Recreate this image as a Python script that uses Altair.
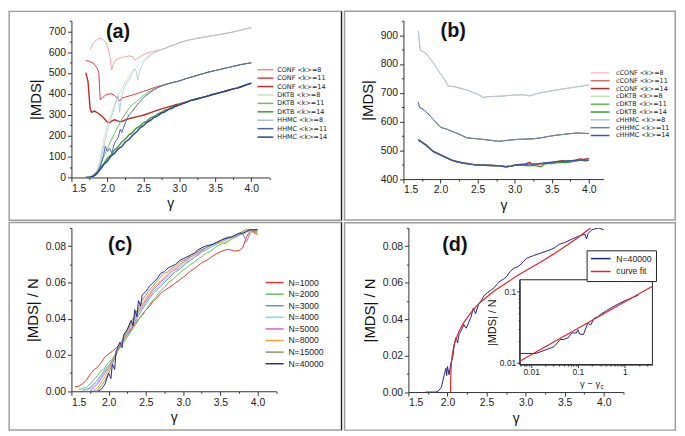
import altair as alt
import pandas as pd

FONT = "Liberation Sans"
LFONT = "DejaVu Sans"
ONE = alt.Data(values=[{"k": 1}])

# ---------------- tick lists ----------------
X_TICKS = [1.5, 1.75, 2.0, 2.25, 2.5, 2.75, 3.0, 3.25, 3.5, 3.75, 4.0, 4.25]
X_TICKS_B = [1.5, 1.75, 2.0, 2.25, 2.5, 2.75, 3.0, 3.25, 3.5, 3.75, 4.0]
YA_TICKS = [0, 50, 100, 150, 200, 250, 300, 350, 400, 450, 500, 550, 600, 650, 700, 750]
YB_TICKS = [400, 450, 500, 550, 600, 650, 700, 750, 800, 850, 900, 950]
YC_TICKS = [0.0, 0.01, 0.02, 0.03, 0.04, 0.05, 0.06, 0.07, 0.08, 0.09]
INSET_X_TICKS = [0.006, 0.007, 0.008, 0.009, 0.01, 0.02, 0.03, 0.04, 0.05, 0.06, 0.07, 0.08, 0.09,
                 0.1, 0.2, 0.3, 0.4, 0.5, 0.6, 0.7, 0.8, 0.9, 1, 2, 3]
INSET_Y_TICKS = [0.01, 0.02, 0.03, 0.04, 0.05, 0.06, 0.07, 0.08, 0.09, 0.1]

# ---------------- panel (a) data ----------------
A_NAMES = ["CONF  <k>=8", "CONF  <k>=11", "CONF  <k>=14",
           "DKTB  <k>=8", "DKTB  <k>=11", "DKTB  <k>=14",
           "HHMC  <k>=8", "HHMC  <k>=11", "HHMC  <k>=14"]
A_COLORS = ["#f08c8c", "#e03c3c", "#c4262a", "#c2e6b6", "#6cc25c", "#3d9c38",
            "#a9bdd9", "#4a66b2", "#27419c"]
A_WIDTHS = [0.8, 1.0, 1.4, 0.8, 1.0, 1.4, 0.8, 1.0, 1.4]

A_TAIL_8 = [(2.75, 612), (2.80, 618), (2.85, 625), (2.90, 632), (2.95, 638), (3.00, 645),
            (3.05, 650), (3.10, 655), (3.15, 659), (3.20, 662), (3.25, 667), (3.30, 669),
            (3.35, 672), (3.40, 675), (3.45, 678), (3.50, 681), (3.55, 684), (3.60, 687),
            (3.65, 690), (3.70, 693), (3.75, 697), (3.80, 701), (3.85, 705), (3.90, 709),
            (3.95, 713), (4.00, 717)]
A_TAIL_11 = [(3.00, 462), (3.05, 468), (3.10, 474), (3.15, 479), (3.20, 484), (3.25, 489),
             (3.30, 494), (3.35, 499), (3.40, 504), (3.45, 508), (3.50, 512), (3.55, 516),
             (3.60, 520), (3.65, 524), (3.70, 528), (3.75, 532), (3.80, 536), (3.85, 540),
             (3.90, 543), (3.95, 546), (4.00, 549)]
A_TAIL_14 = [(3.15, 368), (3.20, 372), (3.25, 377), (3.30, 381), (3.35, 386), (3.40, 391),
             (3.45, 396), (3.50, 400), (3.55, 405), (3.60, 410), (3.65, 414), (3.70, 419),
             (3.75, 424), (3.80, 428), (3.85, 433), (3.90, 440), (3.95, 446), (4.00, 452)]

A_CONF8 = [(1.76, 612), (1.80, 640), (1.85, 660), (1.89, 668), (1.93, 662), (1.97, 650),
           (2.00, 630), (2.03, 590), (2.06, 515), (2.08, 540), (2.11, 560), (2.15, 568),
           (2.20, 575), (2.25, 578), (2.30, 582), (2.35, 578), (2.38, 560), (2.40, 565),
           (2.45, 578), (2.50, 588), (2.55, 595), (2.60, 600), (2.65, 604), (2.70, 608)]
A_CONF11 = [(1.70, 560), (1.75, 556), (1.80, 548), (1.85, 528), (1.88, 505), (1.90, 372),
            (1.93, 380), (1.97, 394), (2.00, 398), (2.05, 401), (2.10, 392), (2.15, 376),
            (2.17, 366), (2.20, 380), (2.25, 385), (2.30, 390), (2.35, 395), (2.40, 400),
            (2.45, 406), (2.50, 412), (2.55, 418), (2.60, 424), (2.65, 430), (2.70, 436),
            (2.75, 440), (2.80, 445), (2.85, 449), (2.90, 454), (2.95, 458)]
A_CONF14 = [(1.70, 502), (1.73, 460), (1.76, 330), (1.78, 312), (1.82, 318), (1.86, 310),
            (1.90, 300), (1.95, 285), (2.00, 265), (2.03, 262), (2.07, 272), (2.10, 276),
            (2.15, 270), (2.20, 268), (2.25, 276), (2.30, 282), (2.35, 286), (2.40, 290),
            (2.45, 294), (2.50, 298), (2.55, 304), (2.60, 310), (2.65, 316), (2.70, 322),
            (2.75, 328), (2.80, 333), (2.85, 338), (2.90, 343), (2.95, 348), (3.00, 352),
            (3.05, 357), (3.10, 362)]
A_DKTB8 = [(1.70, 0), (1.75, 1), (1.80, 6), (1.85, 30), (1.90, 90), (1.95, 185), (2.00, 255),
           (2.05, 305), (2.10, 350), (2.15, 392), (2.20, 425), (2.25, 458), (2.30, 488),
           (2.35, 512), (2.40, 528), (2.45, 546), (2.50, 562), (2.55, 576), (2.60, 588),
           (2.65, 598), (2.70, 606)]
A_DKTB11 = [(1.70, 0), (1.75, 1), (1.80, 6), (1.85, 25), (1.90, 60), (1.95, 100), (2.00, 140),
            (2.05, 176), (2.10, 212), (2.15, 246), (2.20, 280), (2.25, 305), (2.30, 330),
            (2.35, 348), (2.40, 362), (2.45, 378), (2.50, 392), (2.55, 404), (2.60, 415),
            (2.65, 425), (2.70, 432), (2.75, 438), (2.80, 444), (2.85, 450), (2.90, 455),
            (2.95, 458)]
A_DKTB14 = [(1.70, 0), (1.75, 2), (1.80, 8), (1.85, 24), (1.90, 46), (1.95, 66), (2.00, 92),
            (2.05, 108), (2.10, 132), (2.15, 148), (2.20, 170), (2.25, 184), (2.30, 204),
            (2.35, 216), (2.40, 235), (2.45, 246), (2.50, 262), (2.55, 270), (2.60, 285),
            (2.65, 292), (2.70, 305), (2.75, 311), (2.80, 322), (2.85, 327), (2.90, 338),
            (2.95, 342), (3.00, 350), (3.05, 355), (3.10, 362)]
A_HHMC8 = [(1.70, 0), (1.75, 0), (1.80, 4), (1.85, 20), (1.90, 68), (1.95, 150), (2.00, 225),
           (2.05, 285), (2.10, 335), (2.13, 378), (2.15, 392), (2.17, 312), (2.19, 372),
           (2.22, 418), (2.25, 440), (2.30, 470), (2.35, 502), (2.38, 520), (2.40, 508),
           (2.42, 465), (2.44, 498), (2.47, 528), (2.50, 552), (2.55, 570), (2.60, 585),
           (2.65, 597), (2.70, 606)]
A_HHMC11 = [(1.70, 0), (1.80, 3), (1.85, 15), (1.90, 50), (1.95, 112), (1.97, 150), (2.00, 125),
            (2.03, 140), (2.06, 118), (2.10, 165), (2.15, 192), (2.18, 232), (2.20, 215),
            (2.25, 262), (2.30, 300), (2.35, 318), (2.40, 342), (2.45, 362), (2.50, 382),
            (2.55, 396), (2.60, 408), (2.65, 420), (2.70, 430), (2.75, 437), (2.80, 443),
            (2.85, 449), (2.90, 454), (2.95, 458)]
A_HHMC14 = [(1.70, 0), (1.75, 0), (1.80, 5), (1.85, 17), (1.90, 38), (1.95, 62), (2.00, 78),
            (2.05, 102), (2.10, 116), (2.15, 137), (2.20, 148), (2.25, 170), (2.30, 182),
            (2.35, 202), (2.40, 216), (2.45, 236), (2.50, 248), (2.55, 264), (2.60, 273),
            (2.65, 288), (2.70, 295), (2.75, 308), (2.80, 314), (2.85, 326), (2.90, 331),
            (2.95, 341), (3.00, 346), (3.05, 354), (3.10, 360)]

# ---------------- panel (b) data ----------------
B_NAMES = ["cCONF  <k>=8", "cCONF  <k>=11", "cCONF  <k>=14",
           "cDKTB  <k>=8", "cDKTB  <k>=11", "cDKTB  <k>=14",
           "cHHMC  <k>=8", "cHHMC  <k>=11", "cHHMC  <k>=14"]
B_COLORS = ["#f3c4c4", "#e06a6a", "#c62828", "#bde6b2", "#5dba4c", "#3a9a35",
            "#b4c2de", "#6a7cbe", "#3d58a4"]
B_WIDTHS = [1.0, 1.0, 1.4, 1.0, 1.0, 1.4, 1.0, 1.0, 1.4]

B_K8 = [(1.70, 915), (1.72, 862), (1.73, 848), (1.75, 845), (1.80, 838), (1.85, 822),
        (1.90, 805), (1.95, 785), (2.00, 765), (2.05, 748), (2.08, 735), (2.10, 724),
        (2.15, 722), (2.20, 720), (2.25, 717), (2.30, 713), (2.35, 710), (2.40, 705),
        (2.45, 700), (2.50, 695), (2.55, 688), (2.58, 683), (2.62, 686), (2.70, 687),
        (2.80, 688), (2.90, 690), (3.00, 692), (3.10, 693), (3.15, 692), (3.20, 689),
        (3.25, 693), (3.30, 697), (3.40, 702), (3.50, 707), (3.60, 711), (3.70, 715),
        (3.80, 719), (3.90, 723), (4.00, 727)]
B_K11 = [(1.70, 668), (1.71, 655), (1.72, 648), (1.75, 645), (1.80, 635), (1.85, 622),
         (1.90, 608), (1.95, 594), (2.00, 580), (2.05, 576), (2.10, 572), (2.15, 566),
         (2.20, 561), (2.25, 556), (2.30, 550), (2.35, 544), (2.40, 542), (2.50, 540),
         (2.60, 537), (2.70, 534), (2.78, 531), (2.85, 533), (2.95, 536), (3.05, 538),
         (3.15, 539), (3.25, 540), (3.35, 543), (3.45, 548), (3.55, 552), (3.65, 555),
         (3.75, 558), (3.85, 560), (3.92, 559), (4.00, 558)]
B_K14_HEAD = [(1.70, 536), (1.75, 528), (1.80, 519), (1.85, 508), (1.90, 496), (1.95, 490),
              (2.00, 484), (2.05, 478), (2.10, 472), (2.15, 466), (2.20, 462), (2.25, 459),
              (2.30, 456), (2.35, 454), (2.40, 452), (2.45, 450), (2.50, 449), (2.60, 448),
              (2.70, 447), (2.80, 446), (2.88, 443), (2.95, 445), (3.00, 448)]
B_CONF14_TAIL = [(3.05, 450), (3.10, 452), (3.15, 453), (3.20, 458), (3.23, 452), (3.30, 452),
                 (3.40, 454), (3.50, 457), (3.60, 462), (3.65, 464), (3.70, 461), (3.80, 464),
                 (3.88, 470), (3.93, 468), (4.00, 472)]
B_DKTB14_TAIL = [(3.05, 449), (3.10, 448), (3.20, 446), (3.25, 448), (3.30, 446), (3.35, 443),
                 (3.40, 452), (3.45, 455), (3.50, 454), (3.60, 458), (3.70, 457), (3.80, 462),
                 (3.90, 466), (3.95, 463), (4.00, 466)]
B_HHMC14_TAIL = [(3.05, 449), (3.10, 450), (3.20, 452), (3.30, 453), (3.40, 456), (3.50, 459),
                 (3.60, 461), (3.70, 463), (3.80, 465), (3.90, 466), (4.00, 466)]

# ---------------- panel (c) data ----------------
C_NAMES = ["N=1000", "N=2000", "N=3000", "N=4000", "N=5000", "N=8000", "N=15000", "N=40000"]
C_COLORS = ["#e8352f", "#5cc45a", "#6e8fd6", "#86dada", "#d564c8", "#f2a33c", "#8c9870", "#2b2b86"]
C_X = [1.55, 1.60, 1.65, 1.70, 1.75, 1.80, 1.85, 1.90, 1.95, 2.00,
       2.05, 2.10, 2.15, 2.20, 2.25, 2.30, 2.35, 2.40, 2.45, 2.50,
       2.55, 2.60, 2.65, 2.70, 2.75, 2.80, 2.85, 2.90, 2.95, 3.00,
       3.05, 3.10, 3.15, 3.20, 3.25, 3.30, 3.35, 3.40, 3.45, 3.50,
       3.55, 3.60, 3.65, 3.70, 3.75, 3.80, 3.85, 3.90, 3.95, 4.00]
C_N1000 = [0.0025, 0.0028, 0.0042, 0.0060, 0.0092, 0.0118, 0.0132, 0.0158, 0.0190, 0.0205,
           0.0222, 0.0238, 0.0262, 0.0285, 0.0312, 0.0338, 0.0372, 0.0398, 0.0418, 0.0448,
           0.0468, 0.0498, 0.0515, 0.0540, 0.0556, 0.0568, 0.0582, 0.0598, 0.0612, 0.0628,
           0.0645, 0.0662, 0.0676, 0.0692, 0.0708, 0.0718, 0.0730, 0.0745, 0.0758, 0.0768,
           0.0776, 0.0782, 0.0778, 0.0772, 0.0776, 0.0790, 0.0850, 0.0882, 0.0878, 0.0862]
C_N2000 = [0.0010, 0.0015, 0.0022, 0.0040, 0.0062, 0.0088, 0.0112, 0.0128, 0.0160, 0.0178,
           0.0212, 0.0238, 0.0270, 0.0298, 0.0330, 0.0358, 0.0392, 0.0425, 0.0448, 0.0478,
           0.0505, 0.0528, 0.0555, 0.0572, 0.0598, 0.0612, 0.0632, 0.0650, 0.0668, 0.0682,
           0.0698, 0.0712, 0.0728, 0.0742, 0.0758, 0.0768, 0.0782, 0.0798, 0.0808, 0.0818,
           0.0828, 0.0838, 0.0848, 0.0858, 0.0868, 0.0880, 0.0890, 0.0882, 0.0872]
C_N3000 = [0.0005, 0.0010, 0.0020, 0.0040, 0.0062, 0.0090, 0.0118, 0.0142, 0.0170, 0.0210,
           0.0250, 0.0282, 0.0312, 0.0350, 0.0382, 0.0418, 0.0450, 0.0482, 0.0512, 0.0540,
           0.0560, 0.0580, 0.0600, 0.0620, 0.0640, 0.0660, 0.0672, 0.0690, 0.0708, 0.0720,
           0.0738, 0.0750, 0.0768, 0.0778, 0.0790, 0.0800, 0.0810, 0.0820, 0.0830, 0.0840,
           0.0848, 0.0852, 0.0860, 0.0870, 0.0822, 0.0870, 0.0890, 0.0892]
C_N4000 = [0.0005, 0.0015, 0.0030, 0.0050, 0.0080, 0.0110, 0.0140, 0.0172, 0.0210, 0.0248,
           0.0290, 0.0320, 0.0360, 0.0390, 0.0430, 0.0460, 0.0490, 0.0522, 0.0548, 0.0570,
           0.0592, 0.0610, 0.0630, 0.0648, 0.0662, 0.0680, 0.0698, 0.0712, 0.0728, 0.0740,
           0.0758, 0.0768, 0.0780, 0.0792, 0.0802, 0.0812, 0.0822, 0.0830, 0.0840, 0.0848,
           0.0858, 0.0862, 0.0870, 0.0878, 0.0882, 0.0890, 0.0888]
C_N5000 = [0.0005, 0.0020, 0.0040, 0.0070, 0.0100, 0.0130, 0.0170, 0.0208, 0.0250, 0.0290,
           0.0330, 0.0368, 0.0400, 0.0440, 0.0470, 0.0500, 0.0530, 0.0560, 0.0580, 0.0602,
           0.0620, 0.0640, 0.0660, 0.0672, 0.0690, 0.0710, 0.0720, 0.0740, 0.0750, 0.0762,
           0.0772, 0.0788, 0.0800, 0.0810, 0.0820, 0.0830, 0.0838, 0.0842, 0.0850, 0.0860,
           0.0868, 0.0872, 0.0880, 0.0890, 0.0888, 0.0880]
C_N8000 = [0.0005, 0.0020, 0.0050, 0.0080, 0.0120, 0.0160, 0.0200, 0.0250, 0.0290, 0.0330,
           0.0370, 0.0410, 0.0450, 0.0480, 0.0510, 0.0540, 0.0570, 0.0590, 0.0610, 0.0630,
           0.0650, 0.0670, 0.0680, 0.0700, 0.0710, 0.0730, 0.0740, 0.0750, 0.0770, 0.0780,
           0.0790, 0.0800, 0.0810, 0.0818, 0.0822, 0.0812, 0.0820, 0.0840, 0.0860, 0.0870,
           0.0880, 0.0890, 0.0882, 0.0872, 0.0862]
C_N15000 = [0.0005, 0.0030, 0.0060, 0.0100, 0.0150, 0.0200, 0.0250, 0.0300, 0.0340, 0.0380,
            0.0420, 0.0460, 0.0500, 0.0530, 0.0560, 0.0580, 0.0610, 0.0630, 0.0650, 0.0660,
            0.0680, 0.0690, 0.0710, 0.0720, 0.0730, 0.0750, 0.0760, 0.0770, 0.0780, 0.0790,
            0.0800, 0.0810, 0.0820, 0.0830, 0.0840, 0.0850, 0.0850, 0.0860, 0.0870, 0.0880,
            0.0890, 0.0892, 0.0880, 0.0890]
C_N40000 = [(1.75, 0.0), (1.85, 0.0), (1.90, 0.0010), (1.95, 0.0040), (2.00, 0.0100),
            (2.03, 0.0070), (2.05, 0.0150), (2.08, 0.0120), (2.10, 0.0220), (2.15, 0.0270),
            (2.18, 0.0240), (2.20, 0.0310), (2.25, 0.0340), (2.30, 0.0390), (2.33, 0.0360),
            (2.35, 0.0450), (2.38, 0.0410), (2.40, 0.0500), (2.43, 0.0470), (2.45, 0.0530),
            (2.50, 0.0550), (2.55, 0.0580), (2.60, 0.0600), (2.65, 0.0620), (2.70, 0.0650),
            (2.75, 0.0660), (2.80, 0.0680), (2.85, 0.0690), (2.90, 0.0700), (2.95, 0.0720),
            (3.00, 0.0730), (3.05, 0.0740), (3.10, 0.0750), (3.15, 0.0760), (3.20, 0.0780),
            (3.25, 0.0790), (3.30, 0.0800), (3.35, 0.0805), (3.40, 0.0810), (3.45, 0.0820),
            (3.50, 0.0830), (3.55, 0.0840), (3.60, 0.0845), (3.65, 0.0850), (3.70, 0.0860),
            (3.75, 0.0870), (3.80, 0.0870), (3.85, 0.0880), (3.90, 0.0890), (3.95, 0.0890),
            (4.00, 0.0890)]

# ---------------- panel (d) data ----------------
D_NAMES = ["N=40000", "curve fit"]
D_COLORS = ["#23237e", "#e3222a"]
D_DATA = [(1.72, 0.0), (1.85, 0.0), (1.88, 0.0005), (1.92, 0.0025), (1.94, 0.0060), (1.96, 0.0096),
          (1.98, 0.0130), (1.99, 0.0090), (2.00, 0.0140), (2.02, 0.0095), (2.04, 0.0150),
          (2.07, 0.0200), (2.09, 0.0270), (2.11, 0.0300), (2.13, 0.0270), (2.15, 0.0320),
          (2.18, 0.0340), (2.21, 0.0370), (2.24, 0.0350), (2.27, 0.0380), (2.30, 0.0410),
          (2.33, 0.0460), (2.36, 0.0430), (2.40, 0.0485), (2.43, 0.0500), (2.47, 0.0530),
          (2.51, 0.0545), (2.56, 0.0560), (2.60, 0.0573), (2.64, 0.0595), (2.68, 0.0610),
          (2.72, 0.0620), (2.76, 0.0635), (2.80, 0.0660), (2.85, 0.0680), (2.89, 0.0685),
          (2.93, 0.0697), (2.97, 0.0715), (3.01, 0.0733), (3.05, 0.0740), (3.10, 0.0748),
          (3.18, 0.0760), (3.26, 0.0772), (3.35, 0.0786), (3.40, 0.0800), (3.43, 0.0810),
          (3.50, 0.0820), (3.60, 0.0840), (3.68, 0.0855), (3.73, 0.0862), (3.76, 0.0865),
          (3.78, 0.0840), (3.80, 0.0870), (3.85, 0.0890), (3.93, 0.0900), (4.00, 0.0890)]
D_FIT = [(2.04, 0.0), (2.041, 0.006), (2.045, 0.012), (2.05, 0.016), (2.06, 0.020), (2.08, 0.025),
         (2.10, 0.028), (2.15, 0.0335), (2.20, 0.0375), (2.24, 0.040), (2.30, 0.0435),
         (2.40, 0.0485), (2.50, 0.052), (2.60, 0.0555), (2.76, 0.060), (2.90, 0.064),
         (3.00, 0.0665), (3.20, 0.0715), (3.35, 0.0755), (3.51, 0.080), (3.68, 0.085),
         (3.83, 0.090), (3.90, 0.092)]
INSET_DATA = [(0.0057, 0.0135), (0.0127, 0.0135), (0.0304, 0.0167), (0.0418, 0.0212),
              (0.049, 0.0212), (0.062, 0.0224), (0.073, 0.0262), (0.092, 0.0262), (0.100, 0.0290),
              (0.108, 0.0254), (0.131, 0.0249), (0.161, 0.0358), (0.187, 0.0340), (0.22, 0.0420),
              (0.26, 0.0440), (0.30, 0.0475), (0.41, 0.0544), (0.62, 0.0637), (1.00, 0.0744),
              (1.40, 0.0815), (1.94, 0.0890)]
INSET_FIT = [(0.0057, 0.0105), (3.9, 0.1195)]


# ---------------- helpers ----------------
def rows(name, pairs, w=1.0):
    return [{"s": name, "x": x, "y": y, "w": w} for x, y in pairs]


MAJ_X = "abs(datum.value*2 - round(datum.value*2)) < 0.001"
MAJ_100 = "abs(datum.value/100 - round(datum.value/100)) < 0.001"
MAJ_02 = "abs(datum.value*50 - round(datum.value*50)) < 0.001"
MAJ_LOG = "abs(log(datum.value)/LN10 - round(log(datum.value)/LN10)) < 0.001"


def axis(values, test, fmt, title, major=4, minor=2, **kw):
    return alt.Axis(values=values, labelExpr=f"({test}) ? format(datum.value, '{fmt}') : ''",
                    tickSize={"condition": {"test": test, "value": major}, "value": minor},
                    labelOverlap=False, title=title, grid=False, **kw)


def xaxis(values):
    return axis(values, MAJ_X, ".1f", "γ", titleFontSize=14, titlePadding=3)


def yaxis(values, test, fmt, title):
    return axis(values, test, fmt, title, titleFontSize=15, titlePadding=5)


def legend(x, y, L, font, fsize, rowpad, laboff, **kw):
    r = L / 10.0
    return alt.Legend(orient="none", legendX=x, legendY=y, title=None,
                      symbolType="M-2,0H8", symbolSize=4 * r * r, symbolStrokeWidth=1.5,
                      labelFont=font, labelFontSize=fsize, labelColor="#222",
                      rowPadding=rowpad, labelOffset=laboff, **kw)


def frame(ox, oy, cw, ch, dark_right):
    out = [alt.Chart(ONE).mark_rect(fillOpacity=0, stroke="#9d9d9d", strokeWidth=1.5).encode(
        x=alt.value(-ox), x2=alt.value(cw - ox), y=alt.value(-oy), y2=alt.value(ch - oy))]
    if dark_right:
        out.append(alt.Chart(ONE).mark_rule(color="#1a1a1a", strokeWidth=1.2).encode(
            x=alt.value(cw - ox), y=alt.value(-oy), y2=alt.value(ch - oy)))
    return out


def tag(txt, x, y):
    return alt.Chart(ONE).mark_text(font=FONT, fontSize=20, fontWeight="bold", color="#111").encode(
        x=alt.value(x), y=alt.value(y), text=alt.value(txt))


def lines(df, xdom, ydom, xax, yax, names, colors, leg, clip=True):
    return alt.Chart(df).mark_line(clip=clip).encode(
        x=alt.X("x:Q", scale=alt.Scale(domain=xdom, nice=False, zero=False), axis=xax),
        y=alt.Y("y:Q", scale=alt.Scale(domain=ydom, nice=False, zero=False), axis=yax),
        color=alt.Color("s:N", scale=alt.Scale(domain=names, range=colors), legend=leg),
        strokeWidth=alt.StrokeWidth("w:Q", scale=None, legend=None),
    )


# ---------------- panel (a) ----------------
a_series = [A_CONF8 + A_TAIL_8, A_CONF11 + A_TAIL_11, A_CONF14 + A_TAIL_14,
            A_DKTB8 + A_TAIL_8, A_DKTB11 + A_TAIL_11, A_DKTB14 + A_TAIL_14,
            A_HHMC8 + A_TAIL_8, A_HHMC11 + A_TAIL_11, A_HHMC14 + A_TAIL_14]
a_df = pd.DataFrame(sum([rows(n, p, w) for n, p, w in zip(A_NAMES, a_series, A_WIDTHS)], []))
AW, AH, AOX, AOY = 199.6, 158.1, 62.8, 9.5
panel_a = alt.layer(
    *frame(AOX, AOY, 335.3, 210.7, True),
    lines(a_df, [1.5, 4.25], [0, 750], xaxis(X_TICKS), yaxis(YA_TICKS, MAJ_100, "d", "|MDS|"),
          A_NAMES, A_COLORS, legend(187.7, 46.1, 16, LFONT, 6.5, 1.5, 13.5)),
    tag("(a)", 47.1, 11),
).properties(width=AW, height=AH)

# ---------------- panel (b) ----------------
b_series = [B_K8, B_K11, B_K14_HEAD + B_CONF14_TAIL,
            B_K8, B_K11, B_K14_HEAD + B_DKTB14_TAIL,
            B_K8, B_K11, B_K14_HEAD + B_HHMC14_TAIL]
b_df = pd.DataFrame(sum([rows(n, p, w) for n, p, w in zip(B_NAMES, b_series, B_WIDTHS)], []))
BW, BH, BOX, BOY = 202.0, 159.7, 59.5, 9.6
panel_b = alt.layer(
    *frame(BOX, BOY, 333.7, 210.7, False),
    lines(b_df, [1.5, 4.2], [400, 950], xaxis(X_TICKS_B), yaxis(YB_TICKS, MAJ_100, "d", "|MDS|"),
          B_NAMES, B_COLORS, legend(189.5, 49.3, 19, LFONT, 6.5, 0.9, 18.5)),
    tag("(b)", 50.2, 10.4),
).properties(width=BW, height=BH)

# ---------------- panel (c) ----------------
c_lists = [C_N1000, C_N2000, C_N3000, C_N4000, C_N5000, C_N8000, C_N15000]
c_series = [list(zip(C_X[len(C_X) - len(v):], v)) for v in c_lists] + [C_N40000]
c_df = pd.DataFrame(sum([rows(n, p, 1.0) for n, p in zip(C_NAMES, c_series)], []))
CW, CH, COX, COY = 206.6, 164.8, 62.8, 5.4
panel_c = alt.layer(
    *frame(COX, COY, 335.3, 209.3, True),
    lines(c_df, [1.5, 4.25], [0, 0.09], xaxis(X_TICKS), yaxis(YC_TICKS, MAJ_02, ".2f", "|MDS| / N"),
          C_NAMES, C_COLORS, legend(195.2, 50.75, 18.2, FONT, 8.7, 1.7, 15)),
    tag("(c)", 49.2, 16.8),
).properties(width=CW, height=CH)

# ---------------- panel (d) ----------------
d_df = pd.DataFrame(rows(D_NAMES[0], D_DATA) + rows(D_NAMES[1], D_FIT, 1.2))
DW, DH, DOX, DOY = 216.8, 165.6, 64.4, 5.3
IX0, IX1, IY0, IY1 = 112.3, 246.2, 52.3, 137.9
d_main = alt.layer(
    *frame(DOX, DOY, 333.7, 209.3, False),
    lines(d_df, [1.5, 4.25], [0, 0.09], xaxis(X_TICKS), yaxis(YC_TICKS, MAJ_02, ".2f", "|MDS| / N"),
          D_NAMES, D_COLORS,
          legend(179.8, 22.6, 19.7, FONT, 8.7, 3, 17.3, padding=4, strokeColor="#222",
                 fillColor="white")),
    tag("(d)", 46.9, 16.9),
    alt.Chart(ONE).mark_text(font=FONT, fontSize=9.5, align="right", color="#222").encode(
        x=alt.value(193.5), y=alt.value(157.5), text=alt.value("γ − γ")),
    alt.Chart(ONE).mark_text(font=FONT, fontSize=6.5, align="left", color="#222").encode(
        x=alt.value(193.9), y=alt.value(160.3), text=alt.value("c")),
)
ins_x = alt.X("x:Q", scale=alt.Scale(type="log", domain=[0.0057, 3.9], range=[IX0, IX1], nice=False),
              axis=axis(INSET_X_TICKS, MAJ_LOG, "~g", None, major=3, minor=1.5, orient="bottom",
                        offset=IY1 - DH, labelFontSize=8.5, labelPadding=0))
ins_y = alt.Y("y:Q", scale=alt.Scale(type="log", domain=[0.0094, 0.147], range=[IY1, IY0], nice=False),
              axis=axis(INSET_Y_TICKS, MAJ_LOG, "~g", "|MDS| / N", major=3, minor=1.5,
                        orient="left", offset=-IX0, labelFontSize=8.5, labelPadding=1,
                        titleFontSize=11, titlePadding=2))
inset_box = alt.Chart(ONE).mark_rect(fillOpacity=0, stroke="#222", strokeWidth=1).encode(
    x=alt.datum(0.0057), x2=alt.datum(3.9), y=alt.datum(0.0094), y2=alt.datum(0.147))
inset_blue = alt.Chart(pd.DataFrame(rows("data", INSET_DATA))).mark_line(
    color=D_COLORS[0], strokeWidth=1).encode(x=ins_x, y=ins_y)
inset_red = alt.Chart(pd.DataFrame(rows("fit", INSET_FIT))).mark_line(
    color=D_COLORS[1], strokeWidth=1.2).encode(x=ins_x, y=ins_y)
inset = alt.layer(inset_box, inset_blue, inset_red)
panel_d = alt.layer(d_main, inset).resolve_scale(
    x="independent", y="independent").resolve_axis(x="independent", y="independent").properties(
    width=DW, height=DH)

IND = dict(x="independent", y="independent", color="independent", strokeWidth="independent")
top = alt.hconcat(panel_a, panel_b, spacing=0).resolve_scale(**IND)
bottom = alt.hconcat(panel_c, panel_d, spacing=0).resolve_scale(**IND)
chart = alt.vconcat(top, bottom, spacing=0).resolve_scale(**IND).properties(
    padding=0, background="white"
).configure_view(stroke=None).configure_axis(
    domainColor="#333", tickColor="#333", labelColor="#222", labelFont=FONT, labelFontSize=10.5,
    titleFont=FONT, titleFontWeight="normal", titleColor="#111", domainWidth=1, tickWidth=1,
    labelPadding=2,
).configure_concat(spacing=0)

chart.save("out.html", embed_options={"renderer": "svg", "actions": False})
